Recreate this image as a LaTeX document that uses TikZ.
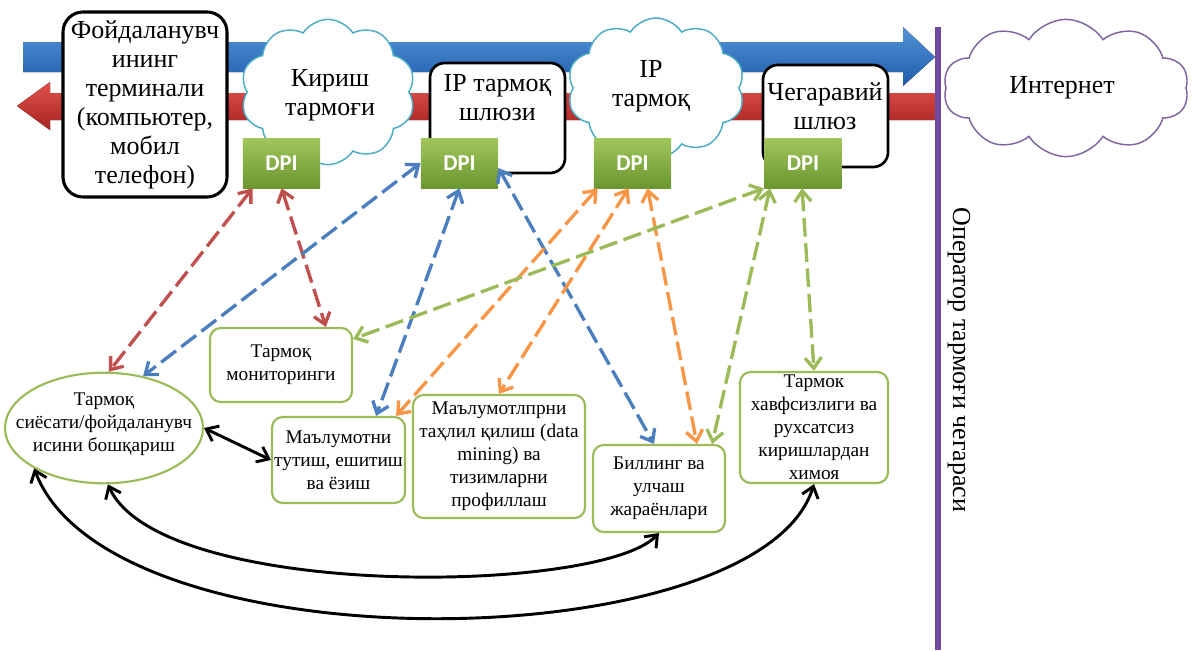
\documentclass[tikz,border=0pt]{standalone}
\usepackage{fontspec}
\setmainfont{Liberation Serif}
\newfontfamily\dpifont{Carlito}
\usetikzlibrary{shapes.symbols,shapes.geometric,arrows.meta,calc}
\definecolor{bluetop}{RGB}{84,146,214}
\definecolor{bluebot}{RGB}{30,92,172}
\definecolor{redtop}{RGB}{222,82,76}
\definecolor{redbot}{RGB}{168,34,34}
\definecolor{cred}{RGB}{192,80,77}
\definecolor{cblue}{RGB}{74,126,190}
\definecolor{corange}{RGB}{247,150,70}
\definecolor{cgreen}{RGB}{155,187,89}
\definecolor{cyanc}{RGB}{75,172,198}
\definecolor{inetc}{RGB}{128,100,162}
\definecolor{purp}{RGB}{112,72,160}
\definecolor{dpitop}{RGB}{160,198,92}
\definecolor{dpibot}{RGB}{108,150,48}
\tikzset{
  bigtxt/.style={font=\fontsize{19.5}{21.75}\selectfont, align=center, inner sep=0pt},
  smtxt/.style={font=\fontsize{14.5}{17.25}\selectfont, align=center},
  blkbox/.style={draw=black, line width=2pt, rounded corners=11pt, fill=white},
  grnbox/.style={draw=cgreen, line width=1.6pt, rounded corners=8pt, fill=white, smtxt, inner sep=0pt},
  dpibox/.style={top color=dpitop, bottom color=dpibot, draw=none, text=white,
     font=\dpifont\bfseries\fontsize{17}{20}\selectfont, minimum width=58pt, minimum height=37.5pt},
  cloudn/.style={cloud, cloud puffs=10, cloud puff arc=115, cloud ignores aspect, draw, fill=white, line width=1.1pt},
  conn/.style={line width=2.5pt, dash pattern=on 14pt off 5pt, <->, >={Straight Barb[length=8pt,width=12.5pt]}},
  blkconn/.style={line width=2.2pt, <->, >={Straight Barb[length=8pt,width=12.5pt]}},
}
\begin{document}
\begin{tikzpicture}[x=0.75pt,y=-0.75pt]
\useasboundingbox (0,0) rectangle (1195,650);
% big flow arrows
\fill[top color=bluetop, bottom color=bluebot] (23,42) -- (903,42) -- (903,27) -- (935,57) -- (903,86) -- (903,72) -- (23,72) -- cycle;
\fill[top color=redtop, bottom color=redbot] (935,93) -- (50,93) -- (50,82) -- (17,106) -- (50,130) -- (50,120) -- (935,120) -- cycle;
% boundary line
\draw[line width=4.5pt, purp] (938,27) -- (938,650);
\node[bigtxt, rotate=-90] (opb) at (959,360) {Оператор тармоғи чегараси};
% top row
\node[blkbox, line width=2.3pt, rounded corners=15pt, minimum width=123pt, minimum height=138.75pt, bigtxt] (term) at (145,104.5) {Фойдаланувч\\ининг\\терминали\\(компьютер,\\мобил\\телефон)};
\node[cloudn, draw=cyanc, minimum width=131pt, minimum height=109pt] (kir) at (328,92) {};
\node[bigtxt] (kirt) at (330,95) {Кириш\\тармоғи};
\node[blkbox, minimum width=101.25pt, minimum height=82.5pt] (ipgw) at (497.5,118) {};
\node[bigtxt] (ipgwt) at (497.5,98) {IP тармоқ\\шлюзи};
\node[cloudn, draw=cyanc, minimum width=133pt, minimum height=105pt] (ipc) at (656,88) {};
\node[bigtxt] (ipct) at (651,86) {IP\\тармоқ};
\node[blkbox, minimum width=93.75pt, minimum height=76.5pt] (chg) at (825.5,116) {};
\node[bigtxt] (chgt) at (825,106) {Чегаравий\\шлюз};
\node[cloudn, draw=inetc, minimum width=184pt, minimum height=103pt] (inet) at (1066,88) {};
\node[bigtxt] (inett) at (1062,88) {Интернет};
% DPI boxes
\node[dpibox] (dpi1) at (281.5,163) {DPI};
\node[dpibox] (dpi2) at (459.5,163) {DPI};
\node[dpibox] (dpi3) at (632.5,163) {DPI};
\node[dpibox] (dpi4) at (803,163) {DPI};
% bottom row
\node[ellipse, draw=cgreen, line width=1.6pt, fill=white, inner sep=0pt, minimum width=148.5pt, minimum height=83pt] (ell) at (104,428) {};
\node[smtxt, inner sep=0pt] (ellt) at (104,424) {Тармоқ\\сиёсати/фойдаланувч\\исини бошқариш};
\node[grnbox, minimum width=106.5pt, minimum height=55.5pt] (mon) at (281,365) {Тармоқ\\мониторинги};
\node[grnbox, minimum width=99.75pt, minimum height=64.5pt] (dat) at (338.5,460) {Маълумотни\\тутиш, ешитиш\\ва ёзиш};
\node[grnbox, minimum width=129pt, minimum height=92.25pt] (mine) at (499,456.5) {Маълумотлпрни\\таҳлил қилиш (data\\mining) ва\\тизимларни\\профиллаш};
\node[grnbox, minimum width=99pt, minimum height=65.25pt] (bil) at (659,488.5) {Биллинг ва\\улчаш\\жараёнлари};
\node[grnbox, minimum width=111pt, minimum height=83.25pt] (sec) at (814,427.5) {Тармок\\хавфсизлиги ва\\рухсатсиз\\киришлардан\\химоя};
% dashed connectors
\draw[conn, cred] ($(dpi1.south west)+(10,0)$) -- (ell.85);
\draw[conn, cred] ($(dpi1.south west)+(39,0)$) -- ($(mon.north west)+(117,0)$);
\draw[conn, cblue] (dpi2.west) -- (ell.53);
\draw[conn, cblue] (dpi2.south) -- ($(dat.north east)+(-30,0)$);
\draw[conn, cblue] ($(dpi2.east)+(0,5)$) -- ($(bil.north west)+(62,0)$);
\draw[conn, corange] ($(dpi3.south west)+(4,0)$) -- ($(dat.north east)+(-10,0)$);
\draw[conn, corange] ($(dpi3.south west)+(35,0)$) -- (mine.north);
\draw[conn, corange] ($(dpi3.south west)+(54,0)$) -- ($(bil.north west)+(105,0)$);
\draw[conn, cgreen] (dpi4.south west) -- ($(mon.north east)+(0,12)$);
\draw[conn, cgreen] ($(dpi4.south west)+(6,0)$) -- ($(bil.north east)+(-14,0)$);
\draw[conn, cgreen] ($(dpi4.south west)+(38,0)$) -- (sec.north);
% black connectors
\draw[blkconn] (ell.east) -- (dat.west);
\draw[blkconn] (ell.-86) .. controls (160,600) and (600,595) .. (bil.south);
\draw[blkconn] (ell.210) .. controls (110,670) and (760,660) .. (sec.south);
\end{tikzpicture}
\end{document}
